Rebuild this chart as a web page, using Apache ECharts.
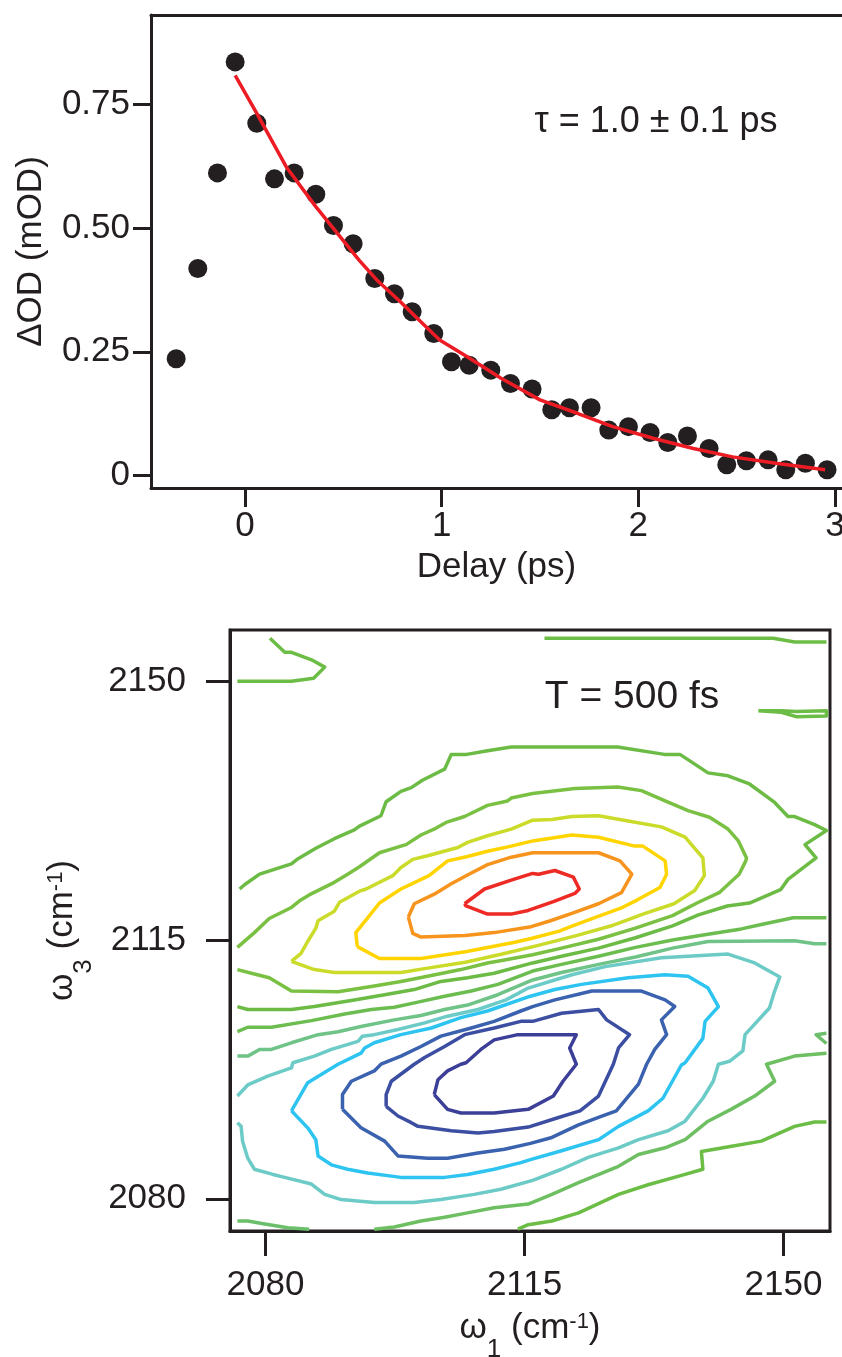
<!DOCTYPE html>
<html>
<head>
<meta charset="utf-8">
<script src="https://cdn.jsdelivr.net/npm/echarts@6/dist/echarts.min.js"></script>
<style>
  html, body { margin: 0; padding: 0; background: #ffffff; }
  #main { width: 842px; height: 1357px; }
</style>
</head>
<body>
<div id="main"></div>
<script>
// ---------- transient absorption decay ----------
const delay = [-0.35, -0.24, -0.14, -0.05, 0.06, 0.15, 0.25, 0.36, 0.45, 0.55, 0.66, 0.76, 0.85, 0.96,
  1.05, 1.14, 1.25, 1.35, 1.46, 1.56, 1.65, 1.76, 1.85, 1.95,
  2.06, 2.15, 2.25, 2.36, 2.45, 2.55, 2.66, 2.75, 2.85, 2.96];
const deltaOD = [0.236, 0.418, 0.611, 0.835, 0.711, 0.599, 0.611, 0.568, 0.505, 0.468, 0.398, 0.367, 0.331, 0.287,
  0.230, 0.223, 0.213, 0.186, 0.175, 0.133, 0.137, 0.137, 0.092, 0.099,
  0.087, 0.067, 0.080, 0.055, 0.022, 0.030, 0.032, 0.012, 0.025, 0.012];
// single-exponential fit curve
const fitDelay = [-0.05, 0.06, 0.21, 0.36, 0.47, 0.58, 0.67, 0.79, 0.86, 0.99, 1.13, 1.30, 1.50, 1.69, 1.87, 2.08, 2.28, 2.48, 2.70, 2.95];
const fitOD = [0.808, 0.731, 0.623, 0.543, 0.489, 0.435, 0.395, 0.351, 0.324, 0.274, 0.240, 0.197, 0.153, 0.126, 0.099, 0.075, 0.055, 0.038, 0.025, 0.012];
const delayTicks = [0, 1, 2, 3];
const odTicks = [0, 0.25, 0.5, 0.75];
const odTickLabels = ['0', '0.25', '0.50', '0.75'];

// ---------- 2D IR spectrum, contour paths as [omega1, omega3] in cm-1 ----------
const freqTicks = [2080, 2115, 2150];
const freqTickLabels = ['2080', '2115', '2150'];

const posLevel6 = [[2106.9,2119.9],[2109.6,2121.9],[2113.2,2123.1],[2116.1,2124.0],[2116.9,2123.9],[2119.1,2124.4],[2121.6,2123.5],[2122.4,2121.9],[2121.8,2121.3],[2118.9,2120.2],[2115.5,2119.0],[2113.2,2118.5],[2110.0,2118.5],[2107.1,2119.6],[2106.9,2119.9]];
const posLevel5 = [[2099.3,2118.1],[2100.1,2119.9],[2102.8,2121.2],[2105.1,2122.6],[2107.3,2123.8],[2110.0,2125.2],[2113.2,2126.2],[2116.1,2126.8],[2120.0,2126.8],[2125.0,2126.8],[2127.9,2125.7],[2129.5,2123.9],[2128.1,2121.4],[2125.0,2119.9],[2121.4,2118.6],[2118.5,2117.6],[2115.9,2116.8],[2110.9,2116.0],[2107.0,2115.6],[2101.0,2115.4],[2099.9,2115.9],[2099.3,2118.1]];
const posLevel4 = [[2092.4,2114.1],[2092.2,2116.0],[2093.8,2118.0],[2095.4,2120.0],[2098.3,2121.9],[2102.1,2123.7],[2104.6,2125.7],[2107.3,2126.3],[2110.0,2127.0],[2113.2,2127.7],[2116.1,2128.4],[2121.4,2129.2],[2125.0,2128.9],[2129.9,2127.7],[2131.0,2127.7],[2134.0,2125.7],[2134.2,2123.9],[2133.3,2122.1],[2130.2,2120.4],[2128.0,2119.3],[2124.4,2118.0],[2121.5,2116.9],[2119.7,2116.2],[2115.9,2115.2],[2113.7,2114.7],[2107.0,2113.4],[2101.0,2112.5],[2095.4,2112.5],[2092.4,2114.1]];
const posLevel3 = [[2083.5,2112.1],[2084.8,2113.2],[2085.7,2114.8],[2086.8,2116.6],[2087.1,2117.6],[2089.3,2118.9],[2090.0,2120.1],[2092.7,2121.6],[2093.6,2121.9],[2097.2,2123.7],[2098.3,2124.8],[2099.9,2125.9],[2101.9,2126.4],[2106.0,2127.5],[2107.3,2128.2],[2110.0,2129.1],[2113.2,2130.0],[2116.1,2131.2],[2118.7,2131.3],[2121.4,2131.7],[2125.0,2131.8],[2129.0,2131.1],[2133.5,2130.3],[2136.7,2128.9],[2139.1,2126.1],[2139.3,2123.7],[2138.0,2121.7],[2135.2,2119.9],[2131.3,2118.6],[2127.0,2117.0],[2122.0,2115.6],[2117.0,2114.3],[2112.0,2113.1],[2107.0,2112.0],[2101.9,2111.2],[2098.3,2110.6],[2089.3,2110.6],[2086.6,2111.0],[2083.5,2112.1]];
const posLevel2 = [[2076.2,2114.0],[2078.5,2116.0],[2080.5,2117.9],[2083.5,2119.4],[2084.6,2120.3],[2085.9,2121.1],[2089.3,2122.8],[2091.1,2123.9],[2092.7,2124.9],[2095.4,2126.8],[2098.3,2127.7],[2099.0,2127.9],[2101.0,2129.2],[2103.0,2130.1],[2104.4,2130.9],[2106.9,2131.7],[2110.0,2133.2],[2112.7,2133.8],[2113.2,2134.2],[2116.1,2134.8],[2121.8,2135.5],[2127.6,2135.7],[2130.8,2135.2],[2134.0,2133.8],[2137.1,2132.5],[2140.0,2131.6],[2142.5,2130.0],[2143.9,2128.4],[2145.0,2126.1],[2144.9,2125.7],[2144.0,2123.9],[2141.3,2121.4],[2138.3,2120.0],[2135.0,2118.3],[2130.0,2116.6],[2125.0,2115.1],[2120.0,2113.9],[2116.1,2113.0],[2112.3,2112.3],[2110.0,2111.9],[2106.4,2111.0],[2101.9,2110.1],[2098.3,2109.4],[2094.3,2108.7],[2089.8,2108.0],[2083.5,2108.1],[2080.5,2109.9],[2078.1,2110.5],[2076.2,2111.0]];
const posLevel1 = [[2076.5,2121.9],[2077.2,2122.5],[2079.2,2123.9],[2083.5,2125.3],[2084.4,2126.0],[2086.8,2127.4],[2089.3,2128.7],[2092.0,2129.9],[2092.7,2130.4],[2095.6,2131.8],[2095.8,2131.9],[2096.3,2133.7],[2098.3,2135.1],[2099.7,2135.6],[2101.2,2136.6],[2104.2,2138.1],[2105.1,2140.1],[2107.2,2140.1],[2110.0,2140.6],[2113.2,2141.1],[2116.1,2141.1],[2127.6,2141.1],[2133.9,2140.1],[2136.0,2140.1],[2139.8,2137.6],[2142.5,2137.2],[2145.4,2136.1],[2148.8,2133.6],[2150.6,2131.7],[2151.5,2131.7],[2154.2,2130.6],[2155.8,2129.8],[2152.9,2127.9],[2154.4,2126.1],[2150.6,2123.2],[2149.6,2121.8],[2145.4,2120.0],[2142.4,2119.6],[2138.5,2118.4],[2135.0,2116.9],[2130.0,2115.3],[2125.0,2113.9],[2120.0,2112.8],[2116.1,2111.9],[2110.9,2110.5],[2107.3,2109.9],[2103.7,2109.4],[2100.1,2108.3],[2096.1,2107.6],[2092.0,2106.9],[2086.6,2106.0],[2083.5,2105.6],[2077.6,2105.6],[2076.2,2106.0]];
const zeroLevelA = [[2076.2,2102.6],[2077.6,2103.2],[2080.8,2103.2],[2086.2,2104.1],[2090.7,2105.0],[2094.3,2105.6],[2097.4,2105.9],[2100.6,2106.6],[2104.2,2107.4],[2107.8,2108.1],[2111.4,2109.0],[2116.1,2110.8],[2120.0,2111.7],[2125.0,2112.8],[2130.0,2114.0],[2135.0,2115.0],[2140.0,2115.8],[2144.3,2116.5],[2147.0,2117.1],[2151.3,2118.0],[2155.8,2118.0]];
const negLevel1 = [[2076.2,2099.3],[2077.6,2099.3],[2079.2,2100.2],[2080.8,2100.2],[2083.5,2101.1],[2087.1,2102.2],[2089.8,2102.6],[2092.9,2103.3],[2097.4,2104.2],[2101.0,2104.8],[2104.2,2105.6],[2107.3,2106.2],[2111.4,2107.6],[2116.1,2109.6],[2120.0,2110.6],[2125.0,2111.7],[2130.0,2112.7],[2135.0,2113.9],[2139.8,2114.8],[2151.5,2114.9],[2154.2,2114.5],[2155.8,2114.5]];
const negLevel2 = [[2076.2,2093.9],[2077.6,2095.4],[2080.3,2096.6],[2083.5,2097.7],[2083.7,2098.4],[2086.6,2099.3],[2088.9,2100.2],[2092.5,2101.3],[2093.1,2102.0],[2094.7,2102.2],[2097.9,2102.9],[2101.5,2103.8],[2104.6,2104.7],[2108.7,2105.6],[2112.5,2106.9],[2115.5,2108.5],[2121.4,2110.3],[2125.9,2111.4],[2133.5,2112.6],[2142.5,2113.1],[2146.1,2111.9],[2149.5,2110.0],[2148.8,2108.1],[2148.1,2105.8],[2144.8,2102.2],[2144.5,2100.0],[2142.7,2098.6],[2141.2,2098.2],[2140.5,2095.9],[2139.1,2093.6],[2136.7,2090.5],[2134.4,2089.2],[2130.4,2088.0],[2127.7,2086.9],[2123.6,2085.6],[2120.0,2084.0],[2116.1,2082.5],[2111.8,2081.3],[2108.2,2080.6],[2103.7,2079.9],[2100.1,2079.5],[2094.7,2079.5],[2090.2,2079.9],[2088.0,2080.6],[2086.2,2082.0],[2083.0,2082.8],[2081.0,2083.3],[2078.5,2084.0],[2077.6,2085.5],[2076.9,2087.8],[2076.7,2089.8],[2076.2,2090.3]];
const negLevel3 = [[2083.5,2091.9],[2085.7,2095.7],[2089.8,2098.2],[2092.9,2099.7],[2093.4,2100.4],[2094.7,2101.1],[2098.3,2102.2],[2102.4,2103.1],[2106.4,2104.5],[2110.0,2105.4],[2115.8,2107.4],[2119.1,2108.3],[2122.7,2109.0],[2129.0,2109.9],[2134.0,2110.3],[2137.1,2110.1],[2139.8,2108.5],[2141.2,2106.0],[2139.4,2104.0],[2139.1,2101.7],[2136.7,2098.4],[2136.2,2098.1],[2133.7,2093.6],[2131.7,2091.9],[2127.7,2089.8],[2125.0,2088.0],[2120.0,2086.5],[2115.8,2085.3],[2114.5,2084.9],[2110.9,2084.0],[2107.3,2083.3],[2104.2,2082.9],[2098.3,2082.9],[2093.8,2083.5],[2091.1,2084.0],[2088.9,2084.6],[2087.1,2085.8],[2086.8,2088.0],[2085.7,2089.6],[2083.5,2091.9]];
const negLevel4 = [[2090.4,2092.1],[2090.4,2094.1],[2091.6,2095.9],[2094.7,2097.3],[2095.6,2098.2],[2098.3,2099.3],[2101.0,2100.6],[2103.7,2102.0],[2107.8,2103.1],[2110.9,2104.0],[2114.5,2105.4],[2116.1,2106.0],[2119.1,2106.9],[2124.1,2108.1],[2130.8,2108.1],[2134.0,2106.9],[2135.3,2106.0],[2133.5,2104.2],[2134.2,2102.2],[2132.6,2100.2],[2131.5,2098.2],[2130.4,2095.5],[2127.4,2091.9],[2125.0,2091.0],[2122.3,2090.0],[2118.7,2088.3],[2115.8,2087.5],[2112.3,2086.7],[2108.7,2086.2],[2104.6,2085.5],[2101.9,2085.5],[2097.9,2085.8],[2096.1,2087.8],[2092.9,2089.6],[2090.4,2092.1]];
const negLevel5 = [[2096.3,2092.5],[2096.3,2094.1],[2097.0,2095.9],[2100.1,2098.2],[2101.5,2099.1],[2104.2,2100.6],[2106.9,2102.2],[2110.9,2103.1],[2114.5,2104.0],[2116.1,2104.0],[2120.0,2105.1],[2125.0,2105.6],[2126.1,2104.2],[2129.2,2102.2],[2127.7,2100.4],[2127.0,2098.2],[2125.0,2093.9],[2122.5,2091.9],[2119.6,2091.0],[2115.5,2089.7],[2110.9,2089.1],[2108.7,2088.9],[2105.1,2089.2],[2100.6,2089.8],[2099.7,2090.3],[2097.9,2091.2],[2096.3,2092.5]];
const negLevel6 = [[2102.8,2094.1],[2103.3,2096.1],[2104.6,2097.3],[2106.4,2098.2],[2107.1,2098.4],[2109.1,2100.2],[2110.9,2101.5],[2114.1,2102.2],[2116.1,2102.2],[2122.0,2102.2],[2121.1,2100.4],[2122.0,2098.2],[2120.2,2095.9],[2118.9,2093.9],[2115.5,2092.1],[2110.9,2091.6],[2106.4,2091.6],[2104.6,2092.1],[2102.8,2094.1]];
const lowerRightA = [[2155.8,2099.7],[2151.5,2099.3],[2147.7,2098.2],[2148.8,2095.9],[2146.1,2093.9],[2142.9,2092.1],[2139.8,2090.5],[2136.7,2088.0],[2134.0,2086.9],[2130.4,2086.0],[2127.7,2084.4],[2122.3,2082.2],[2118.7,2080.6],[2115.5,2079.3],[2110.9,2078.8],[2107.3,2078.1],[2104.2,2077.5],[2101.0,2077.0],[2097.4,2076.2],[2094.7,2075.9]];
const lowerRightB = [[2155.8,2090.4],[2154.2,2090.4],[2151.5,2089.8],[2147.0,2087.8],[2143.0,2087.1],[2138.9,2086.4],[2139.1,2084.0],[2136.7,2083.3],[2131.7,2081.9],[2127.7,2080.6],[2122.3,2078.1],[2118.7,2077.0],[2115.5,2076.5],[2114.1,2075.9]];
const lowerLeft = [[2076.2,2077.0],[2077.6,2077.0],[2079.9,2076.6],[2083.0,2076.1],[2085.9,2075.9]];
const rightNotch = [[2155.8,2102.4],[2154.4,2102.2],[2155.8,2101.0]];
const upperLeft = [[2080.6,2155.8],[2082.6,2153.9],[2083.5,2153.9],[2086.4,2152.8],[2088.0,2151.9],[2086.5,2150.4],[2083.5,2150.0],[2076.2,2150.0]];
const upperEdge = [[2117.7,2155.8],[2148.6,2155.8],[2151.5,2155.3],[2155.8,2155.3]];
const upperRightSliver = [[2146.6,2146.0],[2149.7,2146.0],[2151.7,2145.9],[2155.8,2146.0],[2155.8,2145.3],[2151.7,2145.2],[2149.7,2145.8],[2146.6,2146.0]];

// contour colour for each path (rainbow scale, blue = bleach, red = absorption)
const contourPaths = [
  { path: upperLeft,        color: '#6cbd45' },
  { path: upperEdge,        color: '#6cbd45' },
  { path: upperRightSliver, color: '#6cbd45' },
  { path: rightNotch,       color: '#6cbe6a' },
  { path: lowerLeft,        color: '#6cbf6a' },
  { path: lowerRightB,      color: '#6cbd45' },
  { path: lowerRightA,      color: '#6dbf62' },
  { path: negLevel1,        color: '#6fc387' },
  { path: zeroLevelA,       color: '#6cbd50' },
  { path: posLevel1,        color: '#6cbb45' },
  { path: posLevel2,        color: '#79c043' },
  { path: posLevel3,        color: '#cadb2a' },
  { path: posLevel4,        color: '#ffd400' },
  { path: posLevel5,        color: '#f7941d' },
  { path: posLevel6,        color: '#ee2a24' },
  { path: negLevel2,        color: '#6ccbc6' },
  { path: negLevel3,        color: '#2ec4f1' },
  { path: negLevel4,        color: '#3a62ae' },
  { path: negLevel5,        color: '#3c4ea1' },
  { path: negLevel6,        color: '#3c3f97' }
];

const INK = '#231f20';
const FONT = "'Liberation Sans', Arial, Helvetica, sans-serif";
const zip = (xs, ys) => xs.map((x, i) => [x, ys[i]]);
const lineStyleAxis = { color: INK, width: 3 };

const omegaRich = {
  m:   { fontSize: 35, fontFamily: FONT, color: INK, verticalAlign: 'top', padding: [10, 0, 0, 0] },
  sub: { fontSize: 26, fontFamily: FONT, color: INK, verticalAlign: 'top', padding: [36, 0, 0, 0] },
  sup: { fontSize: 22, fontFamily: FONT, color: INK, verticalAlign: 'top', padding: [10, 0, 0, 0] }
};

const chart = echarts.init(document.getElementById('main'), null, { renderer: 'canvas' });

const option = {
  animation: false,
  backgroundColor: '#ffffff',
  textStyle: { fontFamily: FONT, color: INK },
  grid: [
    { left: 151, top: 15, width: 691, height: 473, outerBoundsMode: 'none', containLabel: false },
    { left: 230, top: 630, width: 600, height: 601, outerBoundsMode: 'none', containLabel: false,
      show: true, borderColor: INK, borderWidth: 3 }
  ],
  xAxis: [
    {
      gridIndex: 0, type: 'value', min: -0.478, max: 3.036, position: 'bottom',
      axisLine: { onZero: false, lineStyle: lineStyleAxis },
      axisTick: { customValues: delayTicks, length: 19, lineStyle: lineStyleAxis },
      axisLabel: { customValues: delayTicks, fontSize: 35, color: INK, fontFamily: FONT, margin: 21 },
      splitLine: { show: false },
      name: 'Delay (ps)', nameLocation: 'middle', nameGap: 62,
      nameTextStyle: { fontSize: 35, color: INK, fontFamily: FONT }
    },
    {
      gridIndex: 0, type: 'value', min: -0.478, max: 3.036, position: 'top',
      axisLine: { onZero: false, lineStyle: lineStyleAxis },
      axisTick: { show: false }, axisLabel: { show: false }, splitLine: { show: false }
    },
    {
      gridIndex: 1, type: 'value', min: 2075.2, max: 2156.28, position: 'bottom',
      axisLine: { onZero: false, lineStyle: lineStyleAxis },
      axisTick: { customValues: freqTicks, length: 25, lineStyle: lineStyleAxis },
      axisLabel: {
        customValues: freqTicks, fontSize: 35, color: INK, fontFamily: FONT, margin: 37,
        formatter: v => freqTickLabels[freqTicks.indexOf(Math.round(v))]
      },
      splitLine: { show: false },
      name: '{m|ω}{sub|1}{m| (cm}{sup|-1}{m|)}', nameLocation: 'middle', nameGap: 70,
      nameTextStyle: { fontSize: 35, color: INK, fontFamily: FONT, rich: omegaRich }
    }
  ],
  yAxis: [
    {
      gridIndex: 0, type: 'value', min: -0.0248, max: 0.9296,
      axisLine: { onZero: false, lineStyle: lineStyleAxis },
      axisTick: { customValues: odTicks, length: 18, lineStyle: lineStyleAxis },
      axisLabel: {
        customValues: odTicks, fontSize: 35, color: INK, fontFamily: FONT, margin: 21,
        formatter: v => {
          const i = odTicks.findIndex(t => Math.abs(t - v) < 1e-6);
          return i >= 0 ? odTickLabels[i] : '';
        }
      },
      splitLine: { show: false },
      name: 'ΔOD (mOD)', nameLocation: 'middle', nameGap: 102,
      nameTextStyle: { fontSize: 35, color: INK, fontFamily: FONT }
    },
    {
      gridIndex: 1, type: 'value', min: 2075.65, max: 2156.92,
      axisLine: { onZero: false, lineStyle: lineStyleAxis },
      axisTick: { customValues: freqTicks, length: 24, lineStyle: lineStyleAxis },
      axisLabel: {
        customValues: freqTicks, fontSize: 35, color: INK, fontFamily: FONT, margin: 44,
        formatter: v => freqTickLabels[freqTicks.indexOf(Math.round(v))]
      },
      splitLine: { show: false },
      name: '{m|ω}{sub|3}{m| (cm}{sup|-1}{m|)}', nameLocation: 'middle', nameGap: 133,
      nameTextStyle: { fontSize: 35, color: INK, fontFamily: FONT, rich: omegaRich }
    }
  ],
  graphic: [
    {
      type: 'text', x: 656, y: 122, silent: true,
      style: { text: 'τ = 1.0 ± 0.1 ps', fontSize: 36, fontFamily: FONT, fill: INK,
               align: 'center', verticalAlign: 'middle', textAlign: 'center', textVerticalAlign: 'middle' }
    },
    {
      type: 'text', x: 632, y: 697, silent: true, z: 10,
      style: { text: 'T = 500 fs', fontSize: 39, fontFamily: FONT, fill: INK,
               align: 'center', verticalAlign: 'middle', textAlign: 'center', textVerticalAlign: 'middle' }
    }
  ],
  series: [
    {
      type: 'scatter', xAxisIndex: 0, yAxisIndex: 0,
      data: zip(delay, deltaOD), symbol: 'circle', symbolSize: 19,
      itemStyle: { color: INK, opacity: 1 }, silent: true, z: 2
    },
    {
      type: 'line', xAxisIndex: 0, yAxisIndex: 0,
      data: zip(fitDelay, fitOD), showSymbol: false, symbol: 'none',
      lineStyle: { color: '#ed1c24', width: 3.5 }, silent: true, z: 3
    }
  ].concat(contourPaths.map(c => ({
    type: 'line', xAxisIndex: 2, yAxisIndex: 1,
    data: c.path, showSymbol: false, symbol: 'none',
    lineStyle: { color: c.color, width: 3.5, join: 'round' },
    silent: true, z: 2
  })))
};

chart.setOption(option);
</script>
</body>
</html>
